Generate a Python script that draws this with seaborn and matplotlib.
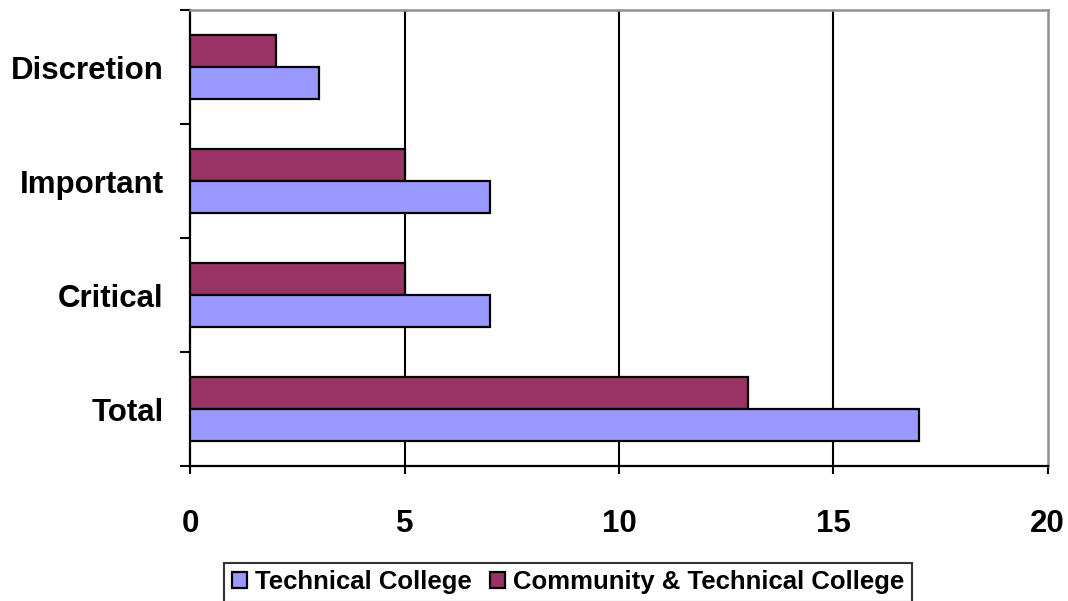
import matplotlib
matplotlib.use("Agg")
import matplotlib.pyplot as plt
import seaborn as sns
import pandas as pd

categories = ["Discretion", "Important", "Critical", "Total"]
technical = [3, 7, 7, 17]
community = [2, 5, 5, 13]
series_names = ["Technical College", "Community & Technical College"]
colors = {"Technical College": "#9999FF", "Community & Technical College": "#993366"}

df = pd.DataFrame({
    "category": categories * 2,
    "value": technical + community,
    "series": [series_names[0]] * 4 + [series_names[1]] * 4,
})

sns.set_style("white")
plt.rcParams["font.family"] = ["Liberation Sans", "DejaVu Sans"]
plt.rcParams["font.weight"] = "bold"
plt.rcParams["text.color"] = "black"
plt.rcParams["xtick.color"] = "black"
plt.rcParams["ytick.color"] = "black"

fig = plt.figure(figsize=(10.68, 6.01), dpi=100)
ax = fig.add_axes([0.178, 0.2246, 0.803, 0.7584])

# community first so it sits on top inside each group
sns.barplot(data=df, x="value", y="category", hue="series", order=categories,
            hue_order=series_names[::-1], palette=colors, orient="h", width=0.56,
            edgecolor="black", linewidth=1.6, saturation=1, ax=ax, zorder=3)

ax.set_xlim(0, 20)
ax.set_ylim(3.5, -0.5)
ax.set_xticks([0, 5, 10, 15, 20])
ax.tick_params(axis="x", labelsize=22.5, pad=25, length=6, width=1.5, direction="out", bottom=True)
ax.set_yticks(range(len(categories)))
ax.set_yticks([i - 0.5 for i in range(len(categories) + 1)], minor=True)
ax.tick_params(axis="y", which="major", length=0, labelsize=22.5, pad=19)
ax.tick_params(axis="y", which="minor", length=7, width=1.5, direction="out", left=True)
for lbl in ax.get_xticklabels() + ax.get_yticklabels():
    lbl.set_fontweight("bold")
    lbl.set_color("black")
ax.set_xlabel("")
ax.set_ylabel("")

for x in [5, 10, 15]:
    ax.axvline(x, color="black", lw=1.5, zorder=1)

ax.spines["left"].set_color("black")
ax.spines["left"].set_linewidth(1.6)
ax.spines["bottom"].set_color("black")
ax.spines["bottom"].set_linewidth(1.6)
ax.spines["top"].set_color("#909090")
ax.spines["top"].set_linewidth(1.8)
ax.spines["right"].set_color("#909090")
ax.spines["right"].set_linewidth(1.8)

handles, labels = ax.get_legend_handles_labels()
ax.get_legend().remove()
order = [labels.index(n) for n in series_names]
leg = fig.legend([handles[i] for i in order], [labels[i] for i in order],
                 loc="upper center", bbox_to_anchor=(0.532, 0.064), ncol=2,
                 fontsize=18.5, frameon=True, fancybox=False, handlelength=0.6,
                 handleheight=0.6, handletextpad=0.3, columnspacing=0.7,
                 borderpad=0.3, borderaxespad=0)
leg.get_frame().set_edgecolor("black")
leg.get_frame().set_linewidth(1.5)
for t in leg.get_texts():
    t.set_fontweight("bold")
    t.set_color("black")

fig.savefig("out.png", dpi=100)
